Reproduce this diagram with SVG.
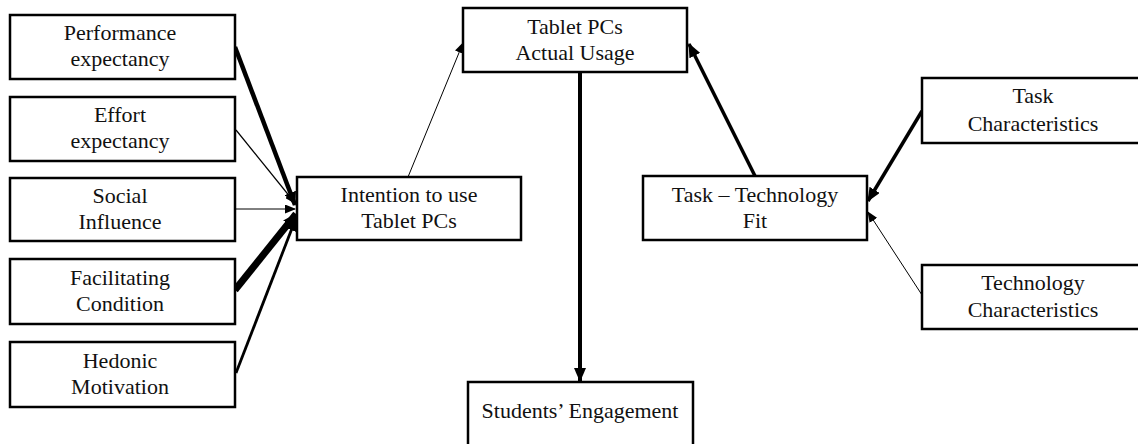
<svg xmlns="http://www.w3.org/2000/svg" width="1138" height="444" viewBox="0 0 1138 444">
<style>
.box{fill:#fff;stroke:#000;stroke-width:2.5}
.t{font-family:"Liberation Serif","Times New Roman",serif;font-size:22px;fill:#111;text-anchor:middle}
.c{stroke:#000;fill:none}
</style>
<defs>
<marker id="ah" viewBox="0 0 14 12" refX="13" refY="6" markerWidth="14" markerHeight="12" markerUnits="userSpaceOnUse" orient="auto">
<path d="M0,0 L14,6 L0,12 z" fill="#000"/>
</marker>
<marker id="ahs" viewBox="0 0 11 9" refX="10" refY="4.5" markerWidth="11" markerHeight="9" markerUnits="userSpaceOnUse" orient="auto">
<path d="M0,0 L11,4.5 L0,9 z" fill="#000"/>
</marker>
</defs>
<rect width="1138" height="444" fill="#fff"/>
<g id="connectors">
<line class="c" x1="235" y1="47" x2="295" y2="205" stroke-width="4.5" marker-end="url(#ah)"/>
<line class="c" x1="236" y1="130" x2="295" y2="203" stroke-width="1.2" marker-end="url(#ahs)"/>
<line class="c" x1="235" y1="209" x2="295" y2="209" stroke-width="1" stroke="#555" marker-end="url(#ahs)"/>
<line class="c" x1="235" y1="290" x2="296" y2="214" stroke-width="7" marker-end="url(#ah)"/>
<line class="c" x1="236" y1="373" x2="296" y2="218" stroke-width="2.8" marker-end="url(#ah)"/>
<line class="c" x1="408" y1="177" x2="463" y2="43" stroke-width="1" stroke="#333" marker-end="url(#ahs)"/>
<line class="c" x1="580" y1="73" x2="580" y2="381" stroke-width="4" marker-end="url(#ah)"/>
<line class="c" x1="755" y1="176" x2="689" y2="44" stroke-width="3.5" marker-end="url(#ah)"/>
<line class="c" x1="922" y1="111" x2="868" y2="201" stroke-width="3.5" marker-end="url(#ah)"/>
<line class="c" x1="922" y1="295" x2="868" y2="212" stroke-width="1" stroke="#444" marker-end="url(#ahs)"/>
</g>
<g id="performance">
<rect class="box" x="10" y="15" width="225" height="64"/>
<text class="t" x="120" y="40">Performance</text>
<text class="t" x="120" y="66">expectancy</text>
</g>
<g id="effort">
<rect class="box" x="10" y="97" width="225" height="64"/>
<text class="t" x="120" y="122">Effort</text>
<text class="t" x="120" y="148">expectancy</text>
</g>
<g id="social">
<rect class="box" x="10" y="178" width="225" height="63"/>
<text class="t" x="120" y="203">Social</text>
<text class="t" x="120" y="229">Influence</text>
</g>
<g id="facilitating">
<rect class="box" x="10" y="259" width="225" height="65"/>
<text class="t" x="120" y="285">Facilitating</text>
<text class="t" x="120" y="311">Condition</text>
</g>
<g id="hedonic">
<rect class="box" x="10" y="342" width="225" height="65"/>
<text class="t" x="120" y="368">Hedonic</text>
<text class="t" x="120" y="394">Motivation</text>
</g>
<g id="intention">
<rect class="box" x="297" y="177" width="224" height="63"/>
<text class="t" x="409" y="202">Intention to use</text>
<text class="t" x="409" y="228">Tablet PCs</text>
</g>
<g id="tablet">
<rect class="box" x="463" y="8" width="224" height="64"/>
<text class="t" x="575" y="34">Tablet PCs</text>
<text class="t" x="575" y="60">Actual  Usage</text>
</g>
<g id="students">
<rect class="box" x="468" y="382" width="225" height="70"/>
<text class="t" x="580" y="418">Students’ Engagement</text>
</g>
<g id="ttf">
<rect class="box" x="643" y="176" width="224" height="64"/>
<text class="t" x="755" y="202">Task – Technology</text>
<text class="t" x="755" y="228">Fit</text>
</g>
<g id="taskchar">
<rect class="box" x="922" y="78" width="230" height="65"/>
<text class="t" x="1033" y="103">Task</text>
<text class="t" x="1033" y="131">Characteristics</text>
</g>
<g id="techchar">
<rect class="box" x="922" y="265" width="230" height="64"/>
<text class="t" x="1033" y="290">Technology</text>
<text class="t" x="1033" y="317">Characteristics</text>
</g>
</svg>
